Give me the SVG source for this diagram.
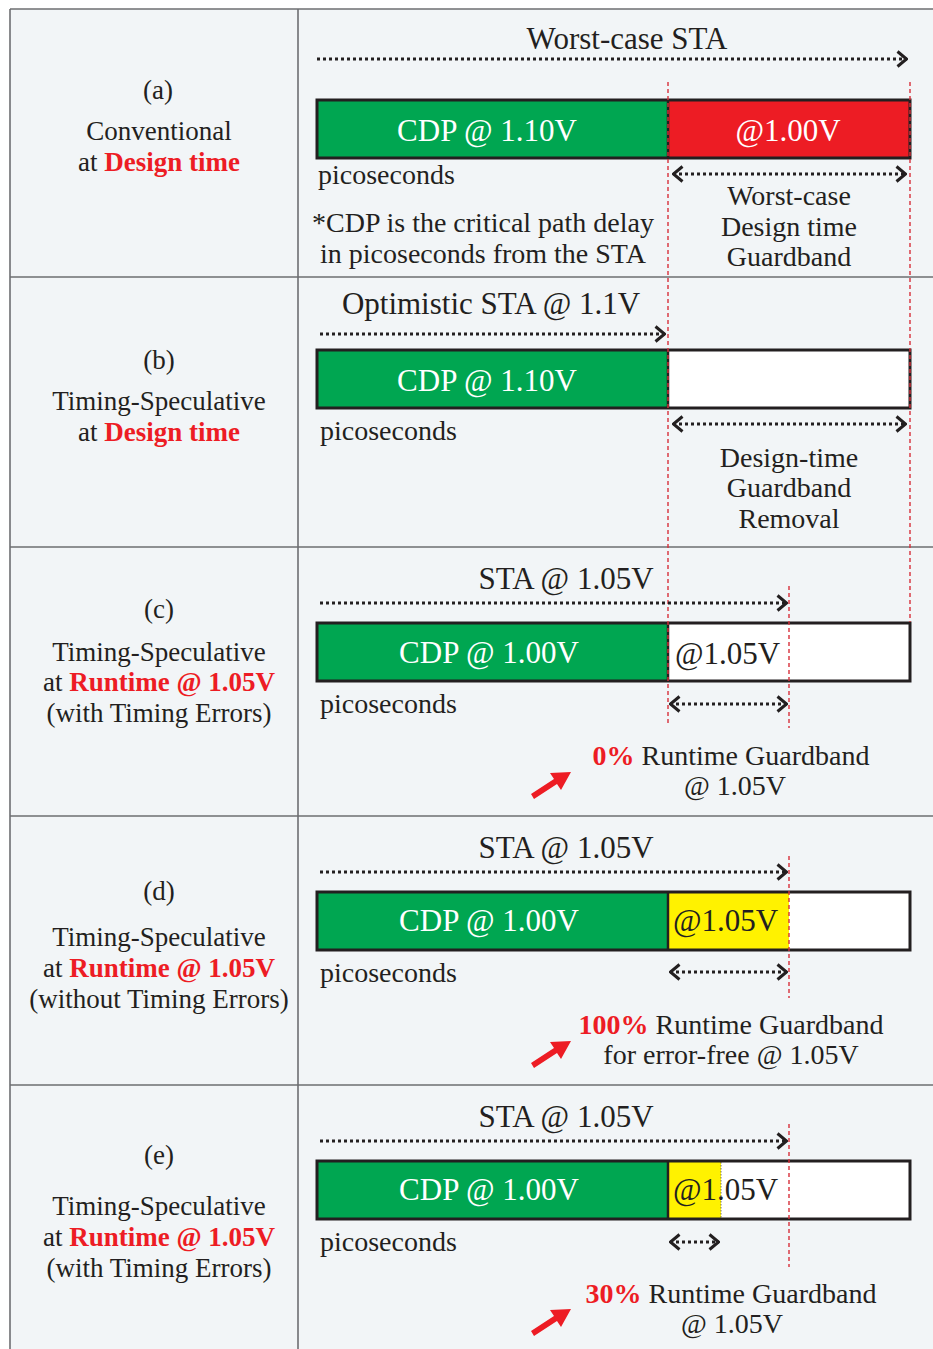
<svg xmlns="http://www.w3.org/2000/svg" width="933" height="1349" viewBox="0 0 933 1349">
<defs>
<style>
text{font-family:"Liberation Serif","Times New Roman",serif;fill:#231f20}
.r{font-size:28px}
.t{font-size:31px}
.l{font-size:27px;text-anchor:middle}
.m{text-anchor:middle}
.w{fill:#ffffff}
.red{fill:#ed1c24;font-weight:bold}
.grid{stroke:#6d6e71;stroke-width:1.6;fill:none}
.dot{stroke:#231f20;stroke-width:3;stroke-dasharray:3 3;fill:none}
.vr{stroke:#d7303a;stroke-width:1.4;stroke-dasharray:4 3;fill:none}
.bar{fill:none;stroke:#231f20;stroke-width:3}
.div{stroke:#231f20;stroke-width:2.5}
</style>
<marker id="ah" viewBox="0 0 12 18" refX="11" refY="9" markerWidth="12" markerHeight="18" markerUnits="userSpaceOnUse" orient="auto-start-reverse">
<path d="M1.5,1.5 L10.5,9 L1.5,16.5" fill="none" stroke="#231f20" stroke-width="3"/>
</marker>
</defs>
<rect x="0" y="0" width="933" height="1349" fill="#ffffff"/>
<rect x="10" y="9" width="923" height="1340" fill="#f2f5f7"/>
<g id="grid">
<line class="grid" x1="10" y1="9" x2="933" y2="9"/>
<line class="grid" x1="10" y1="9" x2="10" y2="1349"/>
<line class="grid" x1="298" y1="9" x2="298" y2="1349"/>
<line class="grid" x1="10" y1="277" x2="933" y2="277"/>
<line class="grid" x1="10" y1="547" x2="933" y2="547"/>
<line class="grid" x1="10" y1="816" x2="933" y2="816"/>
<line class="grid" x1="10" y1="1085" x2="933" y2="1085"/>
</g>

<g id="labels">
<g id="label-a">
<text class="l" x="158" y="99">(a)</text>
<text class="l" x="159" y="140">Conventional</text>
<text class="l" x="159" y="171">at <tspan class="red">Design time</tspan></text>
</g>
<g id="label-b">
<text class="l" x="159" y="369">(b)</text>
<text class="l" x="159" y="410">Timing-Speculative</text>
<text class="l" x="159" y="441">at <tspan class="red">Design time</tspan></text>
</g>
<g id="label-c">
<text class="l" x="159" y="618">(c)</text>
<text class="l" x="159" y="661">Timing-Speculative</text>
<text class="l" x="159" y="691">at <tspan class="red">Runtime @ 1.05V</tspan></text>
<text class="l" x="159" y="722">(with Timing Errors)</text>
</g>
<g id="label-d">
<text class="l" x="159" y="900">(d)</text>
<text class="l" x="159" y="946">Timing-Speculative</text>
<text class="l" x="159" y="977">at <tspan class="red">Runtime @ 1.05V</tspan></text>
<text class="l" x="159" y="1008">(without Timing Errors)</text>
</g>
<g id="label-e">
<text class="l" x="159" y="1164">(e)</text>
<text class="l" x="159" y="1215">Timing-Speculative</text>
<text class="l" x="159" y="1246">at <tspan class="red">Runtime @ 1.05V</tspan></text>
<text class="l" x="159" y="1277">(with Timing Errors)</text>
</g>
</g>

<g id="bars">
<g id="bar-a">
<rect x="317" y="100" width="351" height="58" fill="#00a651"/>
<rect x="668" y="100" width="242" height="58" fill="#ed1c24"/>
<rect class="bar" x="317" y="100" width="593" height="58"/>
<line class="div" x1="668" y1="100" x2="668" y2="158"/>
<text class="t m w" x="487" y="141">CDP @ 1.10V</text>
<text class="t m w" x="788" y="141">@1.00V</text>
</g>
<g id="bar-b">
<rect x="317" y="350" width="351" height="58" fill="#00a651"/>
<rect x="668" y="350" width="242" height="58" fill="#ffffff"/>
<rect class="bar" x="317" y="350" width="593" height="58"/>
<line class="div" x1="668" y1="350" x2="668" y2="408"/>
<text class="t m w" x="487" y="391">CDP @ 1.10V</text>
</g>
<g id="bar-c">
<rect x="317" y="623" width="351" height="58" fill="#00a651"/>
<rect x="668" y="623" width="242" height="58" fill="#ffffff"/>
<rect class="bar" x="317" y="623" width="593" height="58"/>
<line class="div" x1="668" y1="623" x2="668" y2="681"/>
<text class="t m w" x="489" y="663">CDP @ 1.00V</text>
<text class="t" x="675" y="664">@1.05V</text>
</g>
<g id="bar-d">
<rect x="317" y="892" width="351" height="58" fill="#00a651"/>
<rect x="668" y="892" width="121" height="58" fill="#fff200"/>
<rect x="789" y="892" width="121" height="58" fill="#ffffff"/>
<rect class="bar" x="317" y="892" width="593" height="58"/>
<line class="div" x1="668" y1="892" x2="668" y2="950"/>
<text class="t m w" x="489" y="931">CDP @ 1.00V</text>
<text class="t" x="673" y="931">@1.05V</text>
</g>
<g id="bar-e">
<rect x="317" y="1161" width="351" height="58" fill="#00a651"/>
<rect x="668" y="1161" width="53" height="58" fill="#fff200"/>
<rect x="721" y="1161" width="189" height="58" fill="#ffffff"/>
<line x1="721" y1="1162" x2="721" y2="1218" stroke="#555" stroke-width="0.8" stroke-dasharray="1.5 1.5"/>
<rect class="bar" x="317" y="1161" width="593" height="58"/>
<line class="div" x1="668" y1="1161" x2="668" y2="1219"/>
<text class="t m w" x="489" y="1200">CDP @ 1.00V</text>
<text class="t" x="673" y="1200">@1.05V</text>
</g>
</g>

<g id="texts">
<text class="t m" x="627" y="49">Worst-case STA</text>
<text class="r" x="318" y="184">picoseconds</text>
<text class="r m" x="483" y="232">*CDP is the critical path delay</text>
<text class="r m" x="483" y="263">in picoseconds from the STA</text>
<text class="r m" x="789" y="205">Worst-case</text>
<text class="r m" x="789" y="236">Design time</text>
<text class="r m" x="789" y="266">Guardband</text>

<text class="t m" x="491" y="314">Optimistic STA @ 1.1V</text>
<text class="r" x="320" y="440">picoseconds</text>
<text class="r m" x="789" y="467">Design-time</text>
<text class="r m" x="789" y="497">Guardband</text>
<text class="r m" x="789" y="528">Removal</text>

<text class="t m" x="566" y="589">STA @ 1.05V</text>
<text class="r" x="320" y="713">picoseconds</text>
<text class="r m" x="731" y="765"><tspan class="red">0%</tspan> Runtime Guardband</text>
<text class="r m" x="735" y="795">@ 1.05V</text>

<text class="t m" x="566" y="858">STA @ 1.05V</text>
<text class="r" x="320" y="982">picoseconds</text>
<text class="r m" x="731" y="1034"><tspan class="red">100%</tspan> Runtime Guardband</text>
<text class="r m" x="731" y="1064">for error-free @ 1.05V</text>

<text class="t m" x="566" y="1127">STA @ 1.05V</text>
<text class="r" x="320" y="1251">picoseconds</text>
<text class="r m" x="731" y="1303"><tspan class="red">30%</tspan> Runtime Guardband</text>
<text class="r m" x="732" y="1333">@ 1.05V</text>
</g>

<g id="connectors">
<line class="vr" x1="668" y1="82" x2="668" y2="726"/>
<line class="vr" x1="910" y1="82" x2="910" y2="622"/>
<line class="vr" x1="789" y1="586" x2="789" y2="728"/>
<line class="vr" x1="789" y1="856" x2="789" y2="998"/>
<line class="vr" x1="789" y1="1124" x2="789" y2="1267"/>

<line class="dot" x1="317" y1="59" x2="907" y2="59" marker-end="url(#ah)"/>
<line class="dot" x1="673" y1="174" x2="906" y2="174" marker-start="url(#ah)" marker-end="url(#ah)"/>
<line class="dot" x1="320" y1="334" x2="665" y2="334" marker-end="url(#ah)"/>
<line class="dot" x1="673" y1="424" x2="906" y2="424" marker-start="url(#ah)" marker-end="url(#ah)"/>
<line class="dot" x1="320" y1="603" x2="787" y2="603" marker-end="url(#ah)"/>
<line class="dot" x1="670" y1="704" x2="787" y2="704" marker-start="url(#ah)" marker-end="url(#ah)"/>
<line class="dot" x1="320" y1="872" x2="787" y2="872" marker-end="url(#ah)"/>
<line class="dot" x1="670" y1="972" x2="787" y2="972" marker-start="url(#ah)" marker-end="url(#ah)"/>
<line class="dot" x1="320" y1="1141" x2="787" y2="1141" marker-end="url(#ah)"/>
<line class="dot" x1="670" y1="1242" x2="719" y2="1242" marker-start="url(#ah)" marker-end="url(#ah)"/>

<g id="red-arrows" fill="#ed1c24" stroke="none">
<path d="M531,794 L554,779 L550,773 L571,772 L561,790 L557,784 L534,799 Z"/>
<path d="M531,1063 L554,1048 L550,1042 L571,1041 L561,1059 L557,1053 L534,1068 Z"/>
<path d="M531,1331 L554,1316 L550,1310 L571,1309 L561,1327 L557,1321 L534,1336 Z"/>
</g>
</g>
</svg>
